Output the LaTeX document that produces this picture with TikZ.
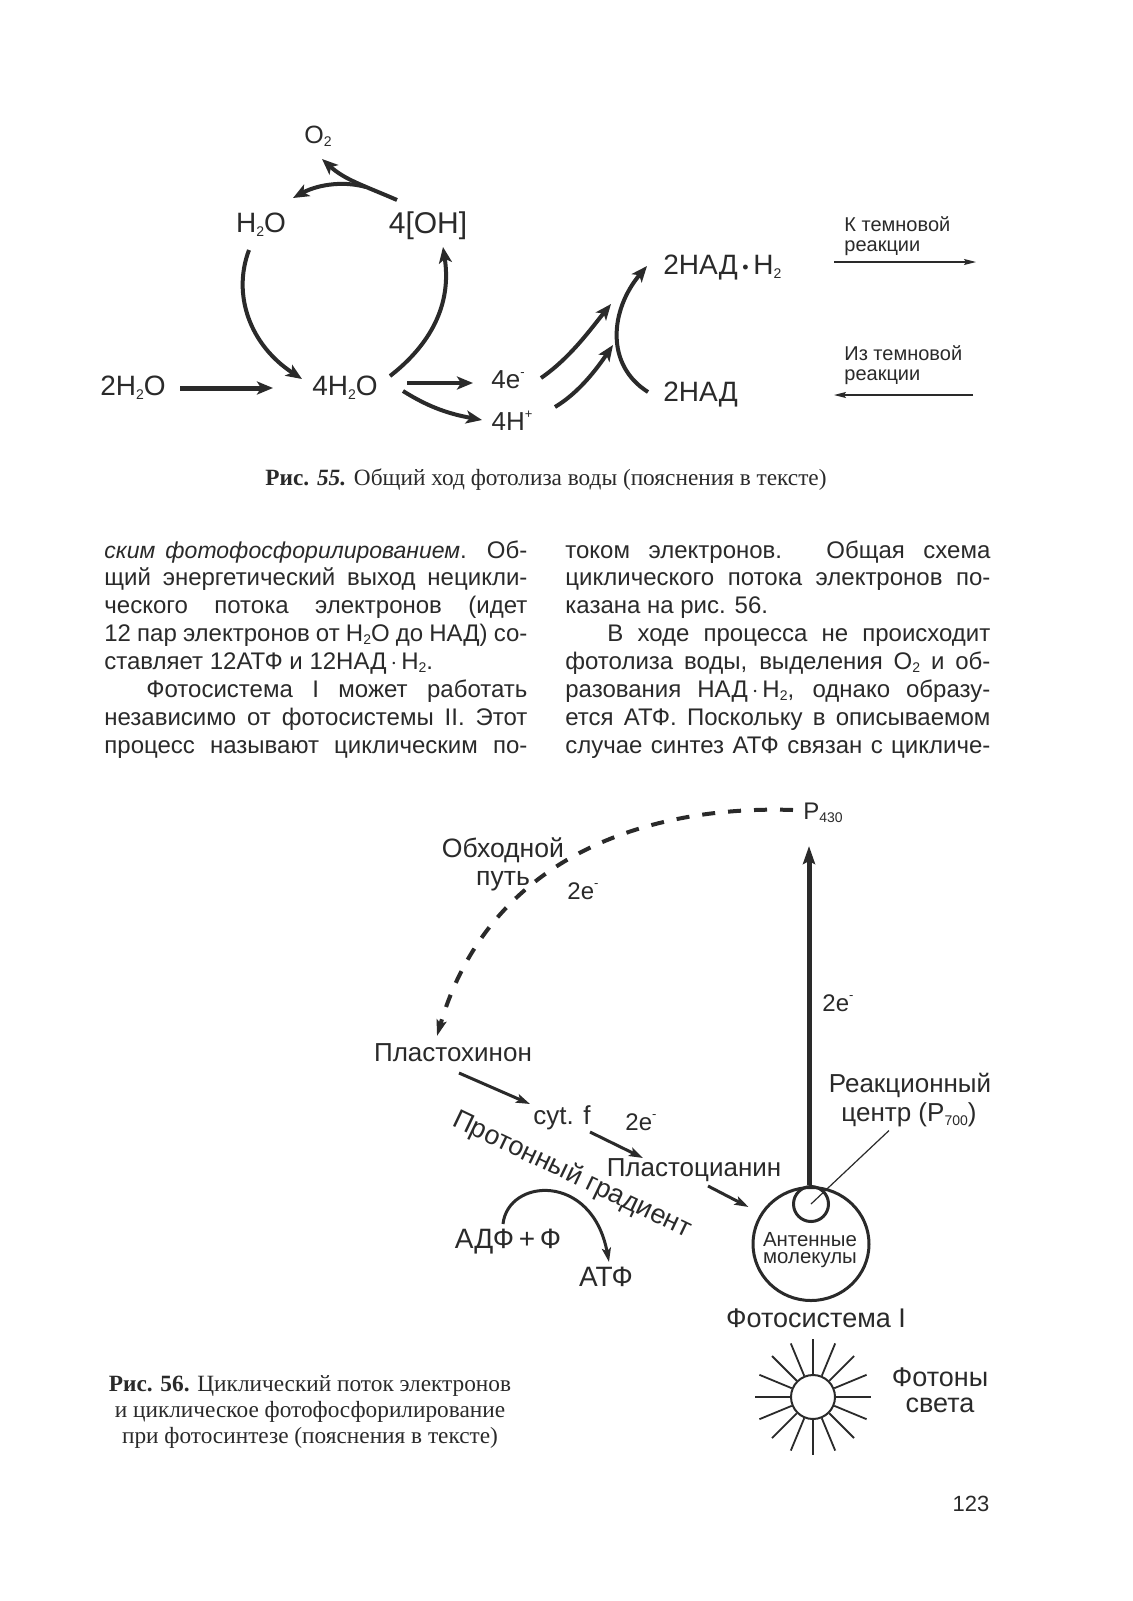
\documentclass[tikz,border=0pt]{standalone}
\usepackage{fontspec}
\setmainfont{Liberation Sans}
\newfontfamily\capfont{Liberation Serif}
\usetikzlibrary{arrows.meta,calc,shapes.geometric}
\definecolor{ink}{HTML}{2A2A2A}
\newcommand{\sbs}[1]{\raisebox{-0.25ex}{\fontsize{7}{7}\selectfont #1}}
\newcommand{\sps}[1]{\raisebox{0.9ex}{\fontsize{6.5}{7}\selectfont #1}}
\tikzset{
  lab/.style={inner sep=0pt,text=ink,font=\fontsize{13}{15}\selectfont},
  big/.style={lab,font=\fontsize{14}{16}\selectfont},
  midl/.style={lab,font=\fontsize{13.5}{16}\selectfont},
  smalllab/.style={inner sep=0pt,text=ink,font=\fontsize{10}{10.3}\selectfont,align=left},
  para/.style={inner sep=0pt,anchor=north west,text=ink,align=justify,font=\fontsize{12}{13.95}\selectfont,execute at begin node={\tolerance=9999\hyphenpenalty=10000\lineskiplimit=-6pt }},
  capt/.style={inner sep=0pt,text=ink,font=\capfont\fontsize{11.65}{12.8}\selectfont,align=center},
  heavy/.style={line width=2pt,draw=ink,-{Stealth[length=8pt,width=6.5pt,inset=2pt]}},
  medium/.style={line width=1.5pt,draw=ink,-{Stealth[length=7pt,width=4.5pt,inset=1.5pt]}},
  fine/.style={line width=0.6pt,draw=ink,-{Stealth[length=6pt,width=3pt,inset=1pt]}},
  ray/.style={line width=0.9pt,draw=ink},
}
\begin{document}
\begin{tikzpicture}[x=0.5pt,y=-0.5pt]
\useasboundingbox (0,0) rectangle (1132,1601);
\fill[white] (0,0) rectangle (1132,1601);
% --- Figure 55
\node[lab,font=\fontsize{12.5}{14}\selectfont] (o2) at (318,136) {O\sbs{2}};
\node[big] (h2o) at (261,225) {H\sbs{2}O};
\node[lab,font=\fontsize{15}{16}\selectfont] (oh) at (428,226) {4[OH]};
\node[big] (w4) at (345,388) {4H\sbs{2}O};
\node[big] (w2) at (133,388) {2H\sbs{2}O};
\node[lab] (e4) at (508,380) {4e\sps{-}};
\node[lab] (h4) at (512,421) {4H\sps{+}};
\node[big,anchor=west] (nadh) at (663,268) {2НАД\,\raisebox{0.1ex}{\fontsize{9}{9}\selectfont\textbullet}\,H\sbs{2}};
\node[big,anchor=west] (nad) at (663,395) {2НАД};
\node[smalllab,anchor=west] (dark1) at (844,236) {К темновой\\реакции};
\node[smalllab,anchor=west] (dark2) at (844,365) {Из темновой\\реакции};
\coordinate (t1a) at (834,262); \coordinate (t1b) at (976,262);
\coordinate (t2a) at (973,395); \coordinate (t2b) at (834,395);
\draw[fine] (t1a) -- (t1b);
\draw[fine] (t2a) -- (t2b);
\draw[heavy] ($(oh)+(-31,-26)$) .. controls (365,186) and (345,180) .. ($(o2)+(4,23)$);
\draw[heavy] (366,187) .. controls (340,180) and (315,186) .. ($(h2o)+(32,-27)$);
\draw[heavy] ($(h2o)+(-12,25)$) .. controls (232,295) and (250,345) .. ($(w4)+(-43,-9)$);
\draw[heavy] ($(w4)+(45,-12)$) .. controls (430,345) and (452,305) .. ($(oh)+(15,21)$);
\draw[heavy,line width=2.5pt] ($(w2)+(47,0)$) -- ($(w4)+(-72,0)$);
\draw[heavy] ($(w4)+(62,-5)$) -- ($(e4)+(-35,3)$);
\draw[heavy] ($(w4)+(58,3)$) .. controls (430,408) and (450,414) .. ($(h4)+(-30,-1)$);
\draw[heavy] ($(e4)+(33,-2)$) .. controls (570,358) and (590,330) .. (611,304);
\draw[heavy] ($(h4)+(43,-14)$) .. controls (580,392) and (598,367) .. (613,345);
\draw[heavy] ($(nad.west)+(-15,-3)$) .. controls (605,365) and (610,310) .. ($(nadh.west)+(-16,-2)$);
\node[capt] (cap55) at (546,480) {\textbf{Рис. \textit{55.}} Общий ход фотолиза воды (пояснения в тексте)};
% --- Text columns
\node[para,text width=423*0.5pt] (col1) at (104,540) {{\fontsize{11.5}{13.95}\selectfont\itshape ским фотофосфорилированием}. Об-\linebreak щий энергетический выход нецикли-\linebreak ческого потока электронов (идет\linebreak 12 пар электронов от H\sbs{2}O до НАД) со-\linebreak ставляет 12АТФ и 12НАД\,$\cdot$\,H\sbs{2}.\par
\hspace*{21pt}Фотосистема I может работать\linebreak независимо от фотосистемы II. Этот\linebreak процесс называют циклическим по-\linebreak};
\node[para,text width=425*0.5pt] (col2) at (565,540) {током электронов. Общая схема\linebreak циклического потока электронов по-\linebreak казана на рис. 56.\par
\hspace*{21pt}В ходе процесса не происходит\linebreak фотолиза воды, выделения O\sbs{2} и об-\linebreak разования НАД\,$\cdot$\,H\sbs{2}, однако образу-\linebreak ется АТФ. Поскольку в описываемом\linebreak случае синтез АТФ связан с цикличе-\linebreak};
% --- Figure 56
\node[lab,anchor=west,font=\fontsize{12}{14}\selectfont] (p430) at (803,813) {P\sbs{430}};
\node[lab,font=\fontsize{13.3}{15}\selectfont] (byp1) at (503,850) {Обходной};
\node[lab,font=\fontsize{13.3}{15}\selectfont] (byp2) at (503,881) {путь};
\node[lab,font=\fontsize{12}{14}\selectfont] (e2a) at (583,891) {2e\sps{-}};
\node[lab,font=\fontsize{12}{14}\selectfont] (e2b) at (838,1003) {2e\sps{-}};
\node[lab] (pq) at (453,1053) {Пластохинон};
\node[lab] (cyt) at (562,1118) {cyt. f};
\node[lab,font=\fontsize{12}{14}\selectfont] (e2c) at (641,1122) {2e\sps{-}};
\node[lab] (pc) at (694,1170) {Пластоцианин};
\node[midl,rotate=-25.5] (grad) at (572,1175) {Протонный градиент};
\node[big] (adp) at (508,1242) {АДФ\,+\,Ф};
\node[big] (atp) at (606,1277) {АТФ};
\node[lab] (rc1) at (910,1085) {Реакционный};
\node[lab] (rc2) at (909,1115) {центр (P\sbs{700})};
\node[ellipse,draw=ink,line width=1.5pt,minimum width=116*0.5pt,minimum height=113*0.5pt,inner sep=0pt] (ant) at (811,1244) {};
\node[circle,draw=ink,line width=1.5pt,minimum size=35*0.5pt,inner sep=0pt] (rcc) at (811,1204) {};
\node[inner sep=0pt,text=ink,font=\fontsize{10.2}{8.7}\selectfont,align=center] (antl) at (810,1250) {Антенные\\молекулы};
\node[midl] (ps) at (816,1318) {Фотосистема I};
\node[circle,draw=ink,line width=1pt,minimum size=44*0.5pt,inner sep=0pt] (sun) at (813,1397) {};
\node[midl] (ph1) at (940,1377) {Фотоны};
\node[midl] (ph2) at (940,1405) {света};
\foreach \a in {0,22.5,...,337.5}
  \draw[ray] (sun.center) ++({\a}:23) -- ++({\a}:35);
\draw[line width=2pt,draw=ink,dash pattern=on 6.5pt off 6.5pt,-{Stealth[length=8pt,width=5pt,inset=1.5pt]}] ($(p430.west)+(-10,-3)$) .. controls (650,805) and (490,855) .. ($(pq)+(-16,-17)$);
\draw[line width=2.5pt,draw=ink,-{Stealth[length=9pt,width=6pt,inset=1.5pt]}] (rcc.north -| 809,0) -- (809,846);
\draw[medium] ($(pq)+(6,20)$) -- ($(cyt)+(-32,-14)$);
\draw[medium] ($(cyt)+(28,14)$) -- ($(pc)+(-51,-12)$);
\draw[medium] ($(pc)+(14,16)$) -- ($(ant.west)+(-3,-37)$);
\draw[line width=0.6pt,draw=ink] ($(rc2.south)+(-20,3)$) -- (rcc.center);
\draw[medium] ($(adp)+(-5,-18)$) .. controls (508,1178) and (592,1172) .. ($(atp)+(3,-15)$);
\node[capt] (cap56) at (310,1412) {\textbf{Рис. 56.} Циклический поток электронов\\и циклическое фотофосфорилирование\\при фотосинтезе (пояснения в тексте)};
\node[lab,font=\fontsize{11}{13}\selectfont] (pg) at (971,1504) {123};
\end{tikzpicture}
\end{document}
